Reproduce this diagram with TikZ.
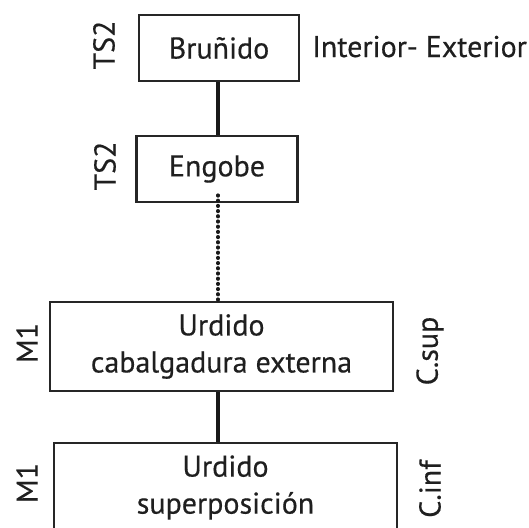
\documentclass[tikz,border=0pt]{standalone}
\usepackage{fontspec}
\setmainfont[FakeBold=0.4]{PT Sans}
\begin{document}
\begin{tikzpicture}[x=1pt,y=-1pt,
  every node/.style={text=black!88, font=\fontsize{30}{37}\selectfont, inner sep=0pt},
  stage/.style={draw=black!85, line width=2.4pt, align=center},
  side/.style={rotate=90},
  link/.style={draw=black!90, line width=3.6pt},
  gap/.style={draw=black!90, line width=3.6pt, line cap=round, dash pattern=on 0.6pt off 4.6pt}]
\useasboundingbox (0,0) rectangle (529,527);
\clip (0,0) rectangle (529,527);
% stages
\node[stage, minimum width=160pt, minimum height=66pt] (b1) at (219,48) {Bruñido};
\node[stage, minimum width=161pt, minimum height=66pt] (b2) at (217,169) {Engobe};
\node[stage, minimum width=343pt, minimum height=89pt] (b3) at (221.5,346.5) {Urdido\\cabalgadura externa};
\node[stage, minimum width=343pt, minimum height=89pt] (b4) at (225.5,487.5) {Urdido\\superposición};
% side labels
\node[side] (l1) at (104,45) {TS2};
\node[side] (l2) at (105,166) {TS2};
\node[side] (l3) at (27,343) {M1};
\node[side] (l4) at (27,483) {M1};
\node[side] (r3) at (430,351) {C.sup};
\node[side] (r4) at (430,489) {C.inf};
\node[anchor=base west] (r1) at (312,57) {Interior- Exterior};
% connectors
\coordinate (axis) at (218,0);
\draw[link] (b1.south -| axis) -- (b2.north -| axis);
\draw[gap] ([yshift=8pt]b2.south -| axis) -- ([yshift=-3pt]b3.north -| axis);
\draw[link] (b3.south -| axis) -- (b4.north -| axis);
\end{tikzpicture}
\end{document}
